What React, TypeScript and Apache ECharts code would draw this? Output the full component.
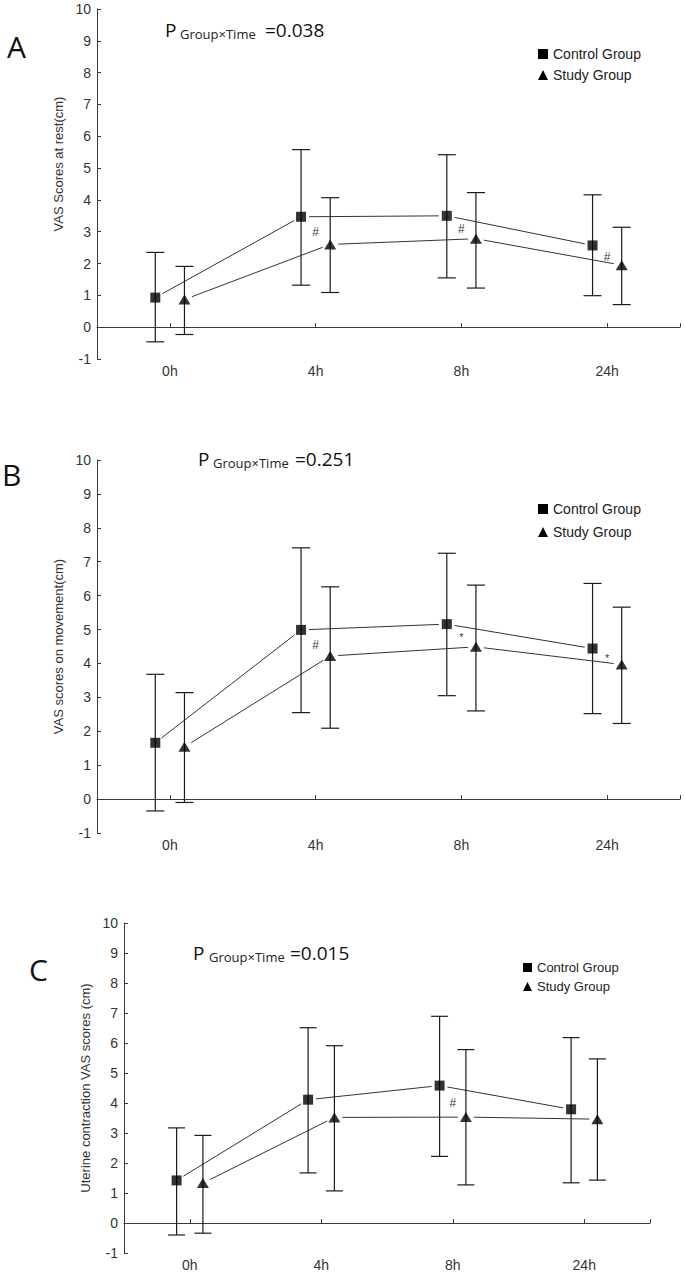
import React, { useEffect, useRef } from "react";
import * as echarts from "echarts";

// ---------- data ----------
const hours = ["0h", "4h", "8h", "24h"];
const panelLetters = ["A", "B", "C"];
const pValues = ["=0.038", "=0.251", "=0.015"];
const seriesNames = ["Control Group", "Study Group"];
const yTitles = [
  "VAS Scores at rest(cm)",
  "VAS scores on movement(cm)",
  "Uterine contraction VAS scores (cm)",
];

// Panel A
const aControlMean = [0.93, 3.47, 3.5, 2.57];
const aControlUpper = [2.35, 5.58, 5.42, 4.16];
const aControlLower = [-0.46, 1.32, 1.55, 0.99];
const aStudyMean = [0.87, 2.6, 2.78, 1.95];
const aStudyUpper = [1.91, 4.07, 4.23, 3.14];
const aStudyLower = [-0.23, 1.09, 1.23, 0.71];
const aMarks = ["", "#", "#", "#"];

// Panel B
const bControlMean = [1.66, 4.99, 5.16, 4.44];
const bControlUpper = [3.68, 7.41, 7.25, 6.36];
const bControlLower = [-0.35, 2.55, 3.05, 2.52];
const bStudyMean = [1.54, 4.22, 4.49, 3.97];
const bStudyUpper = [3.14, 6.26, 6.31, 5.66];
const bStudyLower = [-0.1, 2.09, 2.6, 2.23];
const bMarks = ["", "#", "*", "*"];

// Panel C
const cControlMean = [1.42, 4.11, 4.58, 3.79];
const cControlUpper = [3.17, 6.51, 6.89, 6.18];
const cControlLower = [-0.4, 1.67, 2.22, 1.34];
const cStudyMean = [1.33, 3.52, 3.53, 3.46];
const cStudyUpper = [2.92, 5.91, 5.78, 5.47];
const cStudyLower = [-0.34, 1.07, 1.27, 1.43];
const cMarks = ["", "", "#", ""];

const yRange = [-1, 10];

// ---------- layout / style ----------
const FONT_AX = "Liberation Sans, Arial, sans-serif";
const FONT_TX = "Open Sans, Noto Sans, sans-serif";
const AXIS_COLOR = "#3a3a3a";
const LINE_COLOR = "#1a1a1a";
const OFF = 0.1; // group offset in category units

const panelsData = [
  { cm: aControlMean, cu: aControlUpper, cl: aControlLower, sm: aStudyMean, su: aStudyUpper, sl: aStudyLower, marks: aMarks },
  { cm: bControlMean, cu: bControlUpper, cl: bControlLower, sm: bStudyMean, su: bStudyUpper, sl: bStudyLower, marks: bMarks },
  { cm: cControlMean, cu: cControlUpper, cl: cControlLower, sm: cStudyMean, su: cStudyUpper, sl: cStudyLower, marks: cMarks },
];

const layouts = [
  {
    grid: { left: 97, top: 9, width: 583, height: 350 },
    letter: { x: 7, y: 46 },
    p: { x: 165, y: 30, sx: 180, sy: 34, ex: 265 },
    legend: { left: 538, top: 47, gap: 7, font: 14, icon: 10 },
    namePad: [0, 0, 0, 40],
    cap: 9,
  },
  {
    grid: { left: 97, top: 460, width: 583, height: 373 },
    letter: { x: 2, y: 474 },
    p: { x: 198, y: 458.5, sx: 213, sy: 462.5, ex: 295 },
    legend: { left: 538, top: 502, gap: 9, font: 14, icon: 10 },
    namePad: [0, 0, 0, 0],
    cap: 9,
  },
  {
    grid: { left: 124, top: 923, width: 526, height: 330 },
    letter: { x: 29, y: 969 },
    p: { x: 193, y: 952.5, sx: 209, sy: 957, ex: 290 },
    legend: { left: 523, top: 961, gap: 6, font: 13, icon: 9 },
    namePad: [0, 0, 0, 0],
    cap: 8.5,
  },
];

function errorBarRender(cap: number) {
  return (params: any, api: any) => {
    const x = api.value(0);
    const lo = api.coord([x, api.value(1)]);
    const hi = api.coord([x, api.value(2)]);
    const style = { stroke: LINE_COLOR, lineWidth: 1.2 };
    return {
      type: "group",
      children: [
        { type: "line", shape: { x1: lo[0], y1: lo[1], x2: hi[0], y2: hi[1] }, style },
        { type: "line", shape: { x1: hi[0] - cap, y1: hi[1], x2: hi[0] + cap, y2: hi[1] }, style },
        { type: "line", shape: { x1: lo[0] - cap, y1: lo[1], x2: lo[0] + cap, y2: lo[1] }, style },
      ],
    };
  };
}

function connectorRender(params: any, api: any) {
  const p1 = api.coord([api.value(0), api.value(1)]);
  const p2 = api.coord([api.value(2), api.value(3)]);
  const dx = p2[0] - p1[0];
  const dy = p2[1] - p1[1];
  const len = Math.sqrt(dx * dx + dy * dy) || 1;
  const g = 8;
  const ux = dx / len;
  const uy = dy / len;
  return {
    type: "line",
    shape: { x1: p1[0] + ux * g, y1: p1[1] + uy * g, x2: p2[0] - ux * g, y2: p2[1] - uy * g },
    style: { stroke: "#333", lineWidth: 1 },
  };
}

function buildOption() {
  const grid: any[] = [];
  const xAxis: any[] = [];
  const yAxis: any[] = [];
  const series: any[] = [];
  const legend: any[] = [];
  const graphic: any[] = [];

  panelsData.forEach((pd, k) => {
    const L = layouts[k];
    grid.push({ ...L.grid, containLabel: false });
    xAxis.push({
      gridIndex: k,
      type: "value",
      min: 0.5,
      max: 4.5,
      axisLine: { show: true, lineStyle: { color: AXIS_COLOR, width: 1 } },
      axisTick: { show: true, inside: true, length: 4, customValues: [1, 2, 3, 4, 4.5], lineStyle: { color: AXIS_COLOR } },
      axisLabel: {
        customValues: [1, 2, 3, 4],
        formatter: (v: number) => hours[Math.round(v) - 1] ?? "",
        color: "#333",
        fontSize: 14,
        fontFamily: FONT_AX,
        margin: 5,
      },
      splitLine: { show: false },
    });
    yAxis.push({
      gridIndex: k,
      type: "value",
      min: yRange[0],
      max: yRange[1],
      interval: 1,
      name: yTitles[k],
      nameLocation: "middle",
      nameGap: 22,
      nameTextStyle: { fontSize: 13, color: "#333", fontFamily: FONT_AX, padding: L.namePad },
      axisLine: { show: true, lineStyle: { color: AXIS_COLOR, width: 1 } },
      axisTick: { show: true, inside: true, length: 4, lineStyle: { color: AXIS_COLOR } },
      axisLabel: { color: "#333", fontSize: 14, fontFamily: FONT_AX, margin: 6 },
      splitLine: { show: false },
    });

    const groups = [
      { name: seriesNames[0], mean: pd.cm, up: pd.cu, lo: pd.cl, off: -OFF, symbol: "rect", size: 10 },
      { name: seriesNames[1], mean: pd.sm, up: pd.su, lo: pd.sl, off: OFF, symbol: "triangle", size: [12, 10] },
    ];
    groups.forEach((g) => {
      series.push({
        type: "custom",
        name: g.name,
        xAxisIndex: k,
        yAxisIndex: k,
        renderItem: errorBarRender(L.cap),
        encode: { x: 0, y: [1, 2] },
        data: hours.map((_, i) => [i + 1 + g.off, g.lo[i], g.up[i]]),
        z: 2,
        silent: true,
      });
      series.push({
        type: "custom",
        name: g.name,
        xAxisIndex: k,
        yAxisIndex: k,
        renderItem: connectorRender,
        encode: { x: [0, 2], y: [1, 3] },
        data: hours.slice(0, -1).map((_, i) => [i + 1 + g.off, g.mean[i], i + 2 + g.off, g.mean[i + 1]]),
        z: 2,
        silent: true,
      });
      series.push({
        type: "scatter",
        name: g.name,
        xAxisIndex: k,
        yAxisIndex: k,
        symbol: g.symbol,
        symbolSize: g.size,
        itemStyle: { color: "#000" },
        data: hours.map((_, i) => [i + 1 + g.off, g.mean[i]]),
        z: 5,
        silent: true,
      });
    });

    // significance marks between the two groups
    const marksData = hours
      .map((_, i) => [i + 1, (pd.cm[i] + pd.sm[i]) / 2 - 0.05, pd.marks[i]])
      .filter((d) => d[2] !== "");
    series.push({
      type: "custom",
      name: "marks",
      xAxisIndex: k,
      yAxisIndex: k,
      encode: { x: 0, y: 1 },
      data: marksData,
      renderItem: (params: any, api: any) => {
        const p = api.coord([api.value(0), api.value(1)]);
        const txt = marksData[params.dataIndex][2] as string;
        return {
          type: "text",
          x: p[0],
          y: p[1],
          style: {
            text: txt,
            fontSize: txt === "*" ? 11 : 12,
            fontFamily: FONT_AX,
            fill: "#3c3c3c",
            align: "center",
            verticalAlign: "middle",
          },
        };
      },
      z: 3,
      silent: true,
    });

    legend.push({
      data: [
        { name: seriesNames[0], icon: "rect" },
        { name: seriesNames[1], icon: "triangle" },
      ],
      orient: "vertical",
      left: L.legend.left,
      top: L.legend.top,
      itemWidth: L.legend.icon,
      itemHeight: L.legend.icon,
      itemGap: L.legend.gap,
      itemStyle: { color: "#000" },
      textStyle: { fontSize: L.legend.font, color: "#222", fontFamily: FONT_AX },
      padding: 0,
      selectedMode: false,
    });

    graphic.push({
      type: "text",
      x: L.letter.x,
      y: L.letter.y,
      style: { text: panelLetters[k], fontSize: 30, fontFamily: FONT_TX, fill: "#111", align: "left", verticalAlign: "middle" },
    });
    graphic.push({
      type: "text",
      x: L.p.x,
      y: L.p.y,
      style: { text: "P", fontSize: 19, fontFamily: FONT_TX, fill: "#111", align: "left", verticalAlign: "middle" },
    });
    graphic.push({
      type: "text",
      x: L.p.sx,
      y: L.p.sy,
      style: { text: "Group×Time", fontSize: 13, fontFamily: FONT_TX, fill: "#222", align: "left", verticalAlign: "middle" },
    });
    graphic.push({
      type: "text",
      x: L.p.ex,
      y: L.p.y,
      style: { text: pValues[k], fontSize: 19, fontFamily: FONT_TX, fill: "#111", align: "left", verticalAlign: "middle" },
    });
  });

  return { animation: false, backgroundColor: "#fff", grid, xAxis, yAxis, series, legend, graphic };
}

export default function App() {
  const ref = useRef<HTMLDivElement>(null);
  useEffect(() => {
    if (!ref.current) return;
    const chart = echarts.init(ref.current, undefined, { renderer: "svg" });
    chart.setOption(buildOption() as any);
    return () => chart.dispose();
  }, []);
  return (
    <div
      ref={ref}
      style={{ position: "absolute", left: 0, top: 0, width: 685, height: 1274, background: "#fff" }}
    />
  );
}
